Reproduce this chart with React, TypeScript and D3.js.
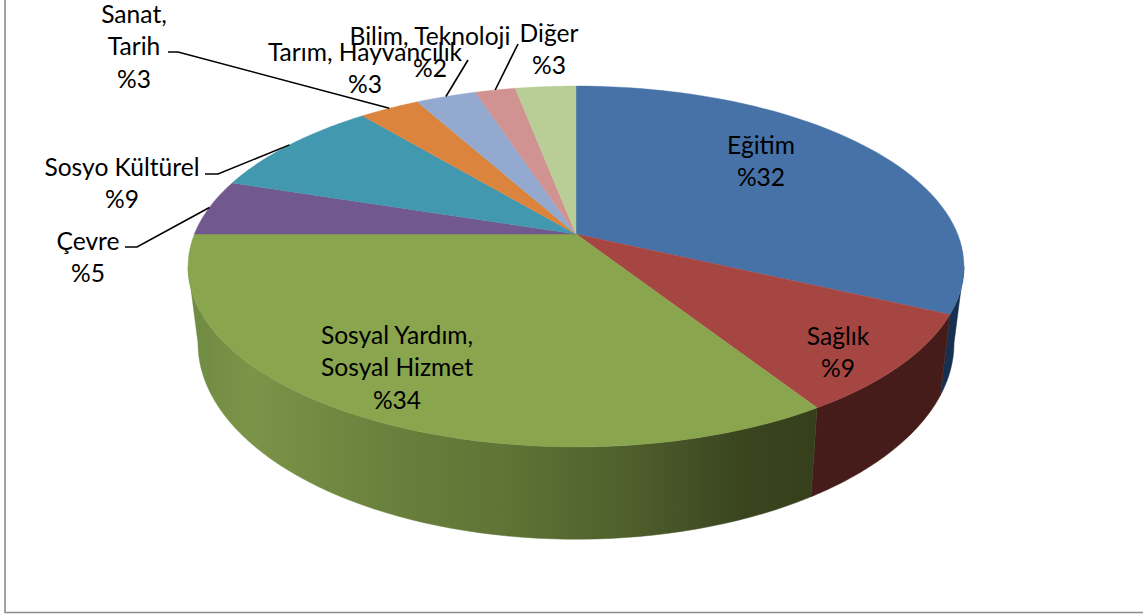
import React from "react";
import * as d3 from "d3";

const categories = ["Eğitim", "Sağlık", "Sosyal Yardım, Sosyal Hizmet", "Çevre", "Sosyo Kültürel", "Sanat, Tarih", "Tarım, Hayvancılık", "Bilim, Teknoloji", "Diğer"];
const values = [32, 9, 34, 5, 9, 3, 3, 2, 3];
const topColors = ["#4672a8", "#a64643", "#89a54e", "#71588f", "#4198af", "#db843d", "#93a9cf", "#d19392", "#b9cd96"];
const wallColors = ["#17304f", "#451c19", "url(#greenWall)", "#3c2d4e", "#1f5566", "#7a4515", "#4c5d7c", "#7a4544", "#66774a"];
const labelLines = [["Eğitim", "%32"], ["Sağlık", "%9"], ["Sosyal Yardım,", "Sosyal Hizmet", "%34"], ["Çevre", "%5"], ["Sosyo Kültürel", "%9"], ["Sanat,", "Tarih", "%3"], ["Tarım, Hayvancılık", "%3"], ["Bilim, Teknoloji", "%2"], ["Diğer", "%3"]];
const labelX = [761, 838, 397, 88, 122, 134, 365, 430, 549];
const labelY = [144, 335, 334, 240, 166, 13, 51, 35, 32];
const leaderStarts: ([number, number][] | null)[] = [null, null, null, [[125, 247], [137, 247]], [[205, 174], [218, 174]], [[168, 52], [178, 52]], [[468, 60]], [[518, 44]], null];

const W = 1143, H = 616, CX = 576;
const topFace = { cy: 234, A: 381.6, B: 174.6, k: 0.18 };
const baseFace = { cy: 308, A: 371.8, B: 189.6, k: 0.18 };
type Face = typeof topFace;
const project = (f: Face, a: number): [number, number] => {
  const s = Math.sin(a), v = -Math.cos(a), d = 1 - f.k * v;
  return [CX + (f.A * s) / d, f.cy + (f.B * v) / d];
};
const arcPts = (f: Face, a0: number, a1: number) =>
  d3.range(0, 61).map((i) => project(f, a0 + ((a1 - a0) * i) / 60));
const line = d3.line();

// Wall is visible between the two silhouette tangents of the projected rim.
const FRONT0 = Math.acos(-topFace.k), FRONT1 = 2 * Math.PI - FRONT0;
const LINE_H = 32.5;

export default function App() {
  const arcs = d3.pie<number>().sort(null)(values);
  return (
    <svg width={W} height={H} style={{ position: "absolute", left: 0, top: 0, background: "#fff" }} fontFamily="Lato, Carlito, sans-serif" fontSize={24.6}>
      <defs>
        <linearGradient id="greenWall" gradientUnits="userSpaceOnUse" x1={188} x2={818} y1={0} y2={0}>
          <stop offset="0" stopColor="#6f8a42" />
          <stop offset="0.1" stopColor="#7b9448" />
          <stop offset="0.3" stopColor="#6a823d" />
          <stop offset="0.5" stopColor="#5f7436" />
          <stop offset="0.7" stopColor="#4e5f2c" />
          <stop offset="0.88" stopColor="#3a451f" />
          <stop offset="1" stopColor="#363f1b" />
        </linearGradient>
      </defs>
      <path d={line([[5, 0], [5, 612.5], [W, 612.5]]) ?? ""} fill="none" stroke="#8c8c8c" strokeWidth={1.6} />
      {arcs.map((d, i) => {
        const a0 = Math.max(d.startAngle, FRONT0), a1 = Math.min(d.endAngle, FRONT1);
        if (a1 <= a0) return null;
        const pts = [...arcPts(topFace, a0, a1), ...arcPts(baseFace, a0, a1).reverse()];
        return <path key={categories[i]} d={(line(pts) ?? "") + "Z"} fill={wallColors[i]} stroke={wallColors[i]} strokeWidth={0.5} />;
      })}
      {arcs.map((d, i) => {
        const pts: [number, number][] = [[CX, topFace.cy], ...arcPts(topFace, d.startAngle, d.endAngle)];
        return <path key={categories[i]} d={(line(pts) ?? "") + "Z"} fill={topColors[i]} stroke={topColors[i]} strokeWidth={0.4} />;
      })}
      {arcs.map((d, i) => {
        const start = leaderStarts[i];
        if (!start) return null;
        const end = project(topFace, (d.startAngle + d.endAngle) / 2);
        return <path key={categories[i]} d={line([...start, end]) ?? ""} fill="none" stroke="#000" strokeWidth={1.6} />;
      })}
      {labelLines.map((lines, i) =>
        lines.map((t, j) => (
          <text key={i + "-" + j} x={labelX[i]} y={labelY[i] + j * LINE_H} textAnchor="middle" dominantBaseline="central" fill="#000">
            {t}
          </text>
        ))
      )}
    </svg>
  );
}
